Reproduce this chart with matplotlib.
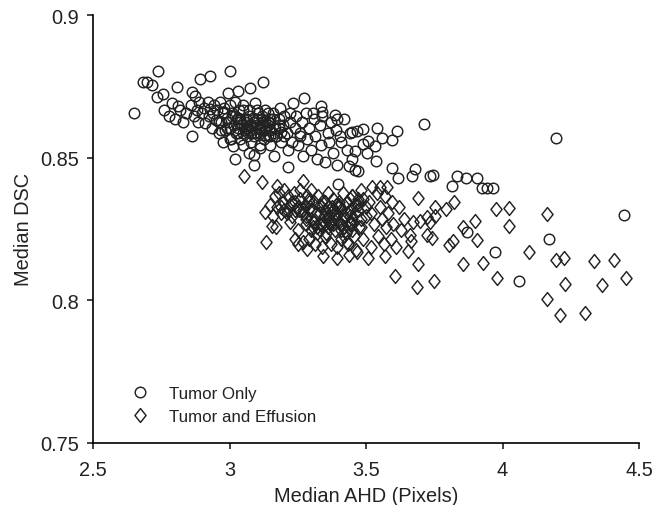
"""Median DSC vs. median AHD, tumor only vs. tumor and effusion."""

import matplotlib
matplotlib.use("Agg")
import matplotlib.pyplot as plt
from matplotlib.path import Path

plt.rcParams["font.family"] = ["Liberation Sans", "DejaVu Sans"]

TUMOR_X = [2.65, 2.683, 2.698, 2.738, 2.715, 2.892, 2.929, 3.002, 3.123, 3.075, 3.031, 2.995, 2.808, 2.734, 2.756, 2.862,
           2.862, 2.976, 3.013, 3.09, 3.163, 3.214, 3.273, 3.233, 3.185, 3.335, 3.386, 3.393, 3.339, 3.305, 3.54, 3.613,
           3.712, 3.49, 3.467, 3.449, 3.405, 3.558, 3.595, 3.507, 3.49, 3.533, 3.46, 3.504, 3.537, 3.438, 3.46, 3.47,
           3.595, 3.679, 3.668, 3.617, 3.734, 3.397, 4.196, 3.745, 3.833, 3.866, 3.907, 3.815, 3.925, 3.943, 3.965,
           4.445, 3.87, 4.17, 3.972, 4.06,
           2.76, 2.78, 2.79, 2.80, 2.81, 2.82, 2.83, 2.84, 2.86, 2.87, 2.875, 2.88, 2.885, 2.89, 2.90, 2.905, 2.91, 2.92,
           2.925, 2.93, 2.935, 2.94, 2.945, 2.95, 2.955, 2.96, 2.965, 2.97, 2.975, 2.98, 2.985, 2.99, 2.995, 3.0, 3.005,
           3.01, 3.015, 3.02, 3.025, 3.03, 3.035, 3.04, 3.045, 3.05, 3.055, 3.06, 3.065, 3.07, 3.075, 3.08, 3.085, 3.09,
           3.095, 3.10, 3.105, 3.11, 3.115, 3.12, 3.125, 3.13, 3.135, 3.14, 3.145, 3.15, 3.16, 3.165, 3.17, 3.18, 3.19,
           3.195, 3.20, 3.21, 3.215, 3.22, 3.23, 3.24, 3.245, 3.25, 3.26, 3.265, 3.27, 3.28, 3.285, 3.29, 3.30, 3.31,
           3.315, 3.32, 3.33, 3.335, 3.34, 3.35, 3.36, 3.365, 3.37, 3.38, 3.39, 3.395, 3.41, 3.42, 3.43, 3.44, 3.45,
           3.0, 3.02, 3.05, 3.07, 3.09, 3.11, 3.13, 2.97, 3.06, 3.1, 3.12, 3.08, 3.04, 3.14,
           3.03, 3.15, 3.18, 3.22, 3.26, 3.2]
TUMOR_Y = [.8655, .8765, .8765, .8803, .8755, .8775, .8786, .8803, .8765, .8744, .8733, .8726, .8747, .8712, .8723, .873,
           .8575, .8554, .854, .851, .8505, .8467, .8709, .8691, .8674, .8681, .865, .8635, .866, .8655, .8604, .8593,
           .8618, .86, .8593, .859, .8575, .8568, .8561, .8558, .8547, .854, .8523, .8516, .8488, .847, .8456, .8453,
           .8463, .846, .8435, .8428, .8435, .8407, .8568, .8439, .8435, .8428, .8428, .84, .8393, .8393, .8393,
           .8298, .8239, .8214, .8168, .8067,
           .8665, .8645, .869, .8635, .868, .8665, .8625, .8655, .8685, .8645, .8715, .8665, .8625, .8695, .8655, .8675,
           .862, .8695, .8645, .867, .8605, .8655, .8685, .863, .8665, .8585, .8695, .8625, .8655, .8675, .8595, .864,
           .8625, .8685, .8565, .8655, .8615, .8695, .8585, .864, .8665, .8565, .8615, .8685, .8595, .8635, .8575, .8665,
           .8615, .8555, .864, .8585, .869, .8615, .8655, .8535, .8595, .8635, .8565, .8665, .8605, .858, .8625, .8545,
           .8655, .8605, .8575, .8635, .8555, .8615, .8645, .8585, .8525, .8625, .8555, .8605, .8645, .8545, .8585, .8625,
           .8505, .8655, .8565, .8605, .8525, .8635, .8575, .8495, .8615, .8545, .8645, .8485, .8585, .8555, .8625,
           .8515, .8595, .8475, .8555, .8635, .8525, .8585, .8495, .8565, .8495, .8545, .8515, .8475, .8545,
           .8625, .8595, .8605, .8585, .8625, .8595, .8635, .8615, .8635, .8575, .8605, .8655, .8575, .8575]
TUMOR_CORE_X = [2.96, 2.98, 3.0, 3.01, 3.03, 3.04, 3.05, 3.06, 3.07, 3.08, 3.09, 3.1, 3.11, 3.12, 3.13, 3.14, 3.15, 3.16, 3.17, 3.18,
                3.19, 3.02, 3.05, 3.08, 3.11, 3.14, 3.06, 3.09, 3.12, 3.15, 3.07, 3.1, 3.13, 3.16, 2.99, 3.03]
TUMOR_CORE_Y = [.8625, .866, .8605, .8645, .8585, .8625, .8665, .8605, .8645, .8585, .8625, .8665, .8605, .8645, .858, .8625, .8595,
                .8635, .8575, .8615, .859, .8645, .8585, .8615, .8585, .8655, .8625, .8575, .8615, .8635, .8595, .8635, .8595,
                .8585, .8605, .8605]

EFFUSION_X = [3.69, 3.577, 3.822, 3.793, 3.753, 3.976, 4.024, 4.163, 4.024, 3.899, 3.855, 3.907, 3.819, 3.804, 3.723, 3.741,
              3.753, 3.723, 3.698, 3.672, 3.734, 3.661, 3.665, 3.654, 3.69, 3.606, 3.687, 3.749, 3.855, 3.929, 4.097, 3.98,
              4.196, 4.225, 4.335, 4.408, 4.229, 4.364, 4.452, 4.163, 4.211, 4.302, 3.053, 3.119, 3.134, 3.174, 3.269,
              3.522, 3.551, 3.342, 3.393, 3.438, 3.467, 3.507, 3.57, 3.284, 3.251, 3.156, 3.13,
              3.15, 3.16, 3.165, 3.17, 3.175, 3.18, 3.19, 3.195, 3.2, 3.21, 3.215, 3.22, 3.23, 3.235, 3.24, 3.25, 3.255,
              3.26, 3.27, 3.275, 3.28, 3.285, 3.29, 3.295, 3.3, 3.305, 3.31, 3.315, 3.32, 3.325, 3.33, 3.335, 3.34, 3.345,
              3.35, 3.355, 3.36, 3.365, 3.37, 3.375, 3.38, 3.385, 3.39, 3.395, 3.4, 3.405, 3.41, 3.415, 3.42, 3.425, 3.43,
              3.435, 3.44, 3.445, 3.45, 3.455, 3.46, 3.465, 3.47, 3.475, 3.48, 3.49, 3.5, 3.51, 3.52, 3.53, 3.54, 3.545,
              3.55, 3.56, 3.565, 3.57, 3.575, 3.58, 3.59, 3.595, 3.6, 3.61, 3.62, 3.63, 3.64, 3.35, 3.37, 3.39, 3.41, 3.43,
              3.33, 3.31, 3.29, 3.27, 3.45, 3.47, 3.3, 3.32, 3.34, 3.36, 3.38, 3.4, 3.42, 3.44,
              3.2, 3.24, 3.28, 3.32, 3.36, 3.4, 3.44, 3.48, 3.52]
EFFUSION_Y = [.8358, .8397, .8344, .8319, .8326, .8319, .8323, .8302, .826, .8277, .8256, .8211, .8207, .8193, .8228, .8218,
              .8295, .8291, .8277, .8274, .8274, .8228, .8207, .8172, .8126, .8084, .8046, .8067, .8126, .813, .8168, .8077,
              .814, .8147, .8137, .814, .8056, .8053, .8077, .8004, .7947, .7954, .8435, .8414, .8204, .84, .8418,
              .8396, .8396, .8155, .8147, .8158, .8168, .8147, .8154, .8179, .8196, .826, .8309,
              .8335, .8295, .8365, .8255, .8325, .8375, .8305, .8345, .8385, .8315, .8365, .8335, .8295, .8375, .8345, .8245,
              .8315, .8385, .8205, .8335, .8295, .8365, .8215, .8325, .8385, .8255, .8345, .8195, .8305, .8365, .8265, .8325,
              .8185, .8295, .8345, .8235, .8375, .8275, .8195, .8325, .8355, .8245, .8305, .8185, .8345, .8265, .8215, .8375,
              .8295, .8235, .8345, .8195, .8315, .8265, .8365, .8225, .8305, .8175, .8345, .8255, .8385, .8215, .8295, .8345,
              .8185, .8265, .8375, .8225, .8325, .8285, .8195, .8365, .8255, .8305, .8215, .8345, .8265, .8185, .8325, .8245,
              .8285, .8225, .8265, .8305, .8245, .8205, .8335, .8275, .8355, .8315, .8365, .8355, .8245, .8255, .8265, .8285,
              .8315, .8325, .8225, .8275, .8315, .8215, .8285, .8235, .8325, .8275, .8355, .8255, .8305]
EFFUSION_CORE_X = [3.19, 3.21, 3.23, 3.25, 3.27, 3.29, 3.31, 3.33, 3.35, 3.37, 3.39, 3.41, 3.43, 3.45, 3.47, 3.49, 3.22, 3.24, 3.26,
                   3.28, 3.3, 3.32, 3.34, 3.36, 3.38, 3.4, 3.42, 3.44, 3.46, 3.48, 3.3, 3.33, 3.36, 3.39, 3.42, 3.45, 3.35, 3.38,
                   3.41, 3.44, 3.47, 3.5]
EFFUSION_CORE_Y = [.8325, .8305, .8345, .8325, .8305, .8345, .8275, .8305, .8265, .8305, .8285, .8265, .8305, .8285, .8335, .8355,
                   .8275, .8315, .8355, .8265, .8315, .8255, .8345, .8295, .8265, .8335, .8255, .8295, .8335, .8285, .8285, .8245,
                   .8255, .8335, .8285, .8245, .8315, .8285, .8315, .8265, .8315, .8325]

X_TICKS = [2.5, 3, 3.5, 4, 4.5]
Y_TICKS = [0.75, 0.8, 0.85, 0.9]
X_LABELS = ["2.5", "3", "3.5", "4", "4.5"]
Y_LABELS = ["0.75", "0.8", "0.85", "0.9"]
DIAMOND = Path([(0, 1), (0.8, 0), (0, -1), (-0.8, 0), (0, 1)], closed=True)


def main():
    fig = plt.figure(figsize=(6.54, 5.06), dpi=100)
    ax = fig.add_axes([93 / 654, 1 - 443.5 / 506, 546 / 654, 427.5 / 506])
    ax.plot(TUMOR_X + TUMOR_CORE_X, TUMOR_Y + TUMOR_CORE_Y, ls="none", marker="o", ms=7.6, mfc="none", mec="#222222", mew=1.05, label="Tumor Only", clip_on=False)
    ax.plot(EFFUSION_X + EFFUSION_CORE_X, EFFUSION_Y + EFFUSION_CORE_Y, ls="none", marker=DIAMOND, ms=10, mfc="none", mec="#222222", mew=1.05, label="Tumor and Effusion", clip_on=False)
    ax.set_xlim(2.5, 4.5); ax.set_ylim(0.75, 0.9)
    ax.set_xticks(X_TICKS, X_LABELS); ax.set_yticks(Y_TICKS, Y_LABELS)
    ax.tick_params(labelsize=14.4, length=4, width=1.2, colors="#222222")
    ax.tick_params(axis="x", pad=8.5); ax.tick_params(axis="y", pad=6)
    ax.spines[["top", "right"]].set_visible(False); ax.spines[["left", "bottom"]].set_linewidth(1.2)
    ax.set_xlabel("Median AHD (Pixels)", fontsize=14.4, color="#222222", labelpad=5)
    ax.set_ylabel("Median DSC", fontsize=14.4, color="#222222", labelpad=5)
    ax.legend(loc="lower left", bbox_to_anchor=(0.062, 0.043), frameon=False, fontsize=12.2, handletextpad=0.9,
              labelspacing=0.5, handlelength=1.6, labelcolor="#222222", borderpad=0, borderaxespad=0)
    fig.savefig("out.png", dpi=100); plt.close(fig)


if __name__ == "__main__": main()
